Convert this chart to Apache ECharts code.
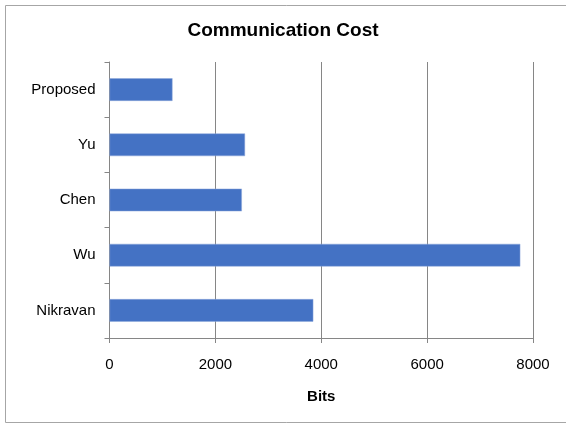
<!DOCTYPE html>
<html><head><meta charset="utf-8">
<script src="https://cdn.jsdelivr.net/npm/echarts@6/dist/echarts.min.js"></script>
<style>html,body{margin:0;padding:0;background:#fff}#c{width:566px;height:425px}</style>
</head><body><div id="c"></div>
<script>
var categories = ['Proposed', 'Yu', 'Chen', 'Wu', 'Nikravan'];
var bits = [1190, 2560, 2500, 7760, 3850];
var xTicks = [0, 2000, 4000, 6000, 8000];

var chart = echarts.init(document.getElementById('c'), null, {renderer: 'canvas'});
var font = 'Arial, "Liberation Sans", sans-serif';
chart.setOption({
  animation: false,
  backgroundColor: '#fff',
  title: {
    text: 'Communication Cost', left: 'center', top: 16,
    textStyle: {fontFamily: font, fontSize: 19, fontWeight: 'bold', color: '#000'}
  },
  graphic: [{
    type: 'rect', shape: {x: 5.5, y: 5.5, width: 570, height: 417},
    style: {fill: 'none', stroke: '#a6a6a6', lineWidth: 1}, silent: true, z: -1
  }],
  grid: {left: 109.5, right: 33, top: 62, bottom: 87, containLabel: false},
  xAxis: {
    type: 'value', min: xTicks[0], max: xTicks[xTicks.length - 1], interval: 2000,
    name: 'Bits', nameLocation: 'middle', nameGap: 51,
    nameTextStyle: {fontFamily: font, fontSize: 15, fontWeight: 'bold', color: '#000'},
    axisLine: {show: true, lineStyle: {color: '#868686', width: 1}},
    axisTick: {show: true, length: 5, lineStyle: {color: '#868686'}},
    axisLabel: {fontFamily: font, fontSize: 15, color: '#000', margin: 19,
      formatter: function (v) { return String(v); }},
    splitLine: {show: true, lineStyle: {color: '#868686', width: 1}}
  },
  yAxis: {
    type: 'category', data: categories, inverse: true,
    axisLine: {show: true, lineStyle: {color: '#868686', width: 1}},
    axisTick: {show: true, length: 5, lineStyle: {color: '#868686'}},
    axisLabel: {fontFamily: font, fontSize: 15, color: '#000', margin: 14},
    splitLine: {show: false}
  },
  series: [{
    type: 'bar', data: bits, barCategoryGap: '59%',
    itemStyle: {color: '#4472C4', borderColor: '#8fa9db', borderWidth: 0.5}
  }]
});
</script>
</body></html>
